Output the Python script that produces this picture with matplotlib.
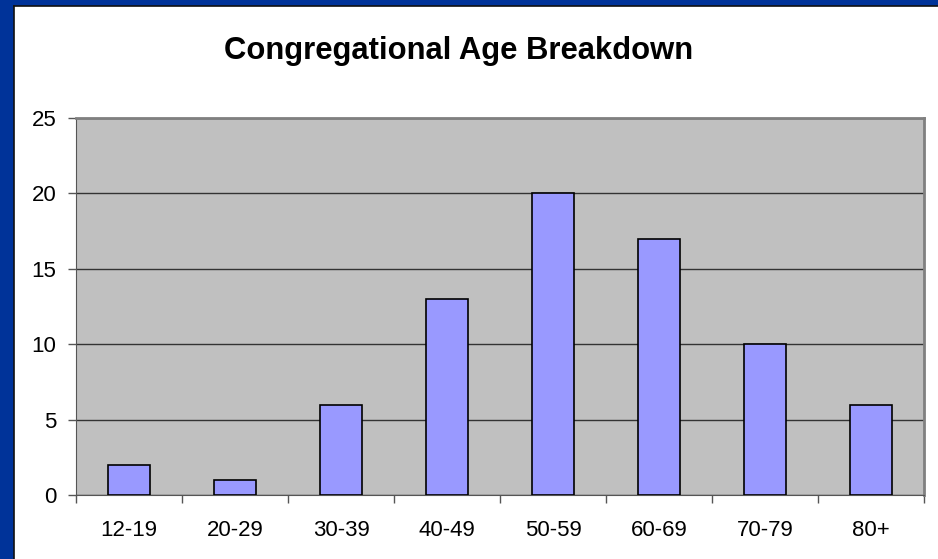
import matplotlib
matplotlib.use('Agg')
import matplotlib.pyplot as plt
from matplotlib.patches import Rectangle
import numpy as np

categories=['12-19','20-29','30-39','40-49','50-59','60-69','70-79','80+']
counts=[2,1,6,13,20,17,10,6]
yticks=[0,5,10,15,20,25]

plt.rcParams['font.family']=['Liberation Sans','DejaVu Sans']

fig=plt.figure(figsize=(9.38,5.59),dpi=100)
fig.patch.set_facecolor('#003399')
W,H=938.,559.
# white slide panel with thin dark edge on top/left
fig.patches.append(Rectangle((14/W,0),1-14/W,1-6/H,transform=fig.transFigure,
                             facecolor='white',edgecolor='none',zorder=-5))
fig.add_artist(plt.Line2D([14/W,14/W],[0,1-6/H],color='#111111',lw=1.2,transform=fig.transFigure,zorder=-4))
fig.add_artist(plt.Line2D([14/W,1],[1-6/H,1-6/H],color='#111111',lw=1.2,transform=fig.transFigure,zorder=-4))

ax=fig.add_axes([76/W,1-495/H,(924-76)/W,(495-118)/H])
ax.set_zorder(2)
ax.set_facecolor('#C0C0C0')
x=np.arange(len(categories))
ax.bar(x,counts,width=0.4,color='#9999FF',edgecolor='black',linewidth=1.2,zorder=3)
ax.set_xlim(-0.5,len(categories)-0.5)
ax.set_ylim(0,25)
ax.set_yticks(yticks)
ax.yaxis.grid(True,color='#333333',linewidth=1,zorder=1)
ax.set_axisbelow(True)
ax.set_xticks(x)
ax.set_xticklabels(categories,fontsize=16)
ax.tick_params(axis='x',length=0,pad=18)
ax.set_xticks(np.arange(-0.5,len(categories)),minor=True)
ax.tick_params(axis='x',which='minor',length=6,color='#555555',width=1)
ax.tick_params(axis='y',labelsize=16,length=6,color='#555555',width=1,pad=8)
for s in ['top','right']:
    ax.spines[s].set_color('#808080')
    ax.spines[s].set_linewidth(2)
ax.spines['left'].set_color('#555555')
ax.spines['bottom'].set_color('#555555')

fig.text(459/W,1-59/H,'Congregational Age Breakdown',ha='center',va='baseline',
         fontsize=22.3,fontweight='bold')

fig.savefig('out.png',dpi=100,facecolor=fig.get_facecolor())
